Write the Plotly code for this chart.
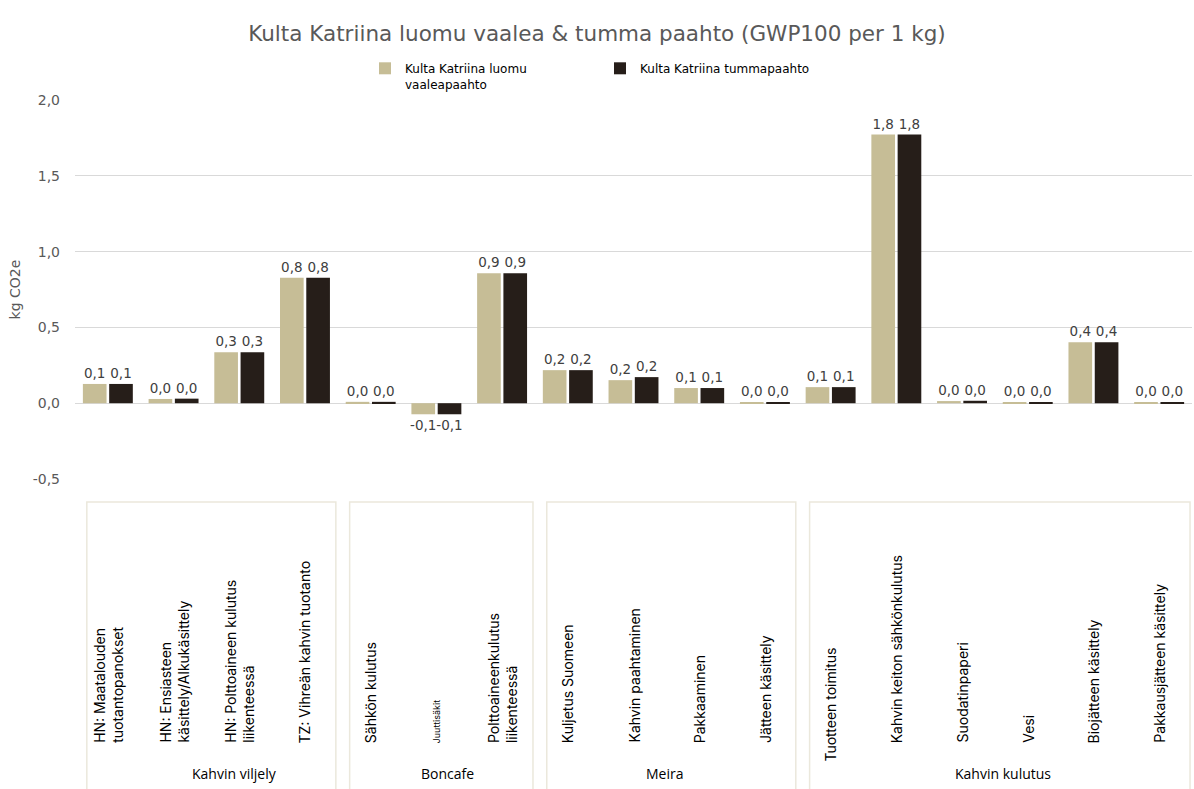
import plotly.graph_objects as go

categories = [
    "HN: Maatalouden<br>tuotantopanokset",
    "HN: Ensiasteen<br>käsittely/Alkukäsittely",
    "HN: Polttoaineen kulutus<br>liikenteessä",
    "TZ: Vihreän kahvin tuotanto",
    "Sähkön kulutus",
    "Juuttisäkit",
    "Polttoaineenkulutus<br>liikenteessä",
    "Kuljetus Suomeen",
    "Kahvin paahtaminen",
    "Pakkaaminen",
    "Jätteen käsittely",
    "Tuotteen toimitus",
    "Kahvin keiton sähkönkulutus",
    "Suodatinpaperi",
    "Vesi",
    "Biojätteen käsittely",
    "Pakkausjätteen käsittely",
]
groups = ["Kahvin viljely", "Boncafe", "Meira", "Kahvin kulutus"]
group_sizes = [4, 3, 4, 6]

light_values = [0.127, 0.028, 0.336, 0.828, 0.009, -0.073, 0.857, 0.218, 0.152,
                0.100, 0.008, 0.106, 1.772, 0.014, 0.008, 0.402, 0.008]
dark_values = [0.127, 0.030, 0.336, 0.828, 0.009, -0.073, 0.857, 0.218, 0.172,
               0.100, 0.008, 0.106, 1.772, 0.016, 0.008, 0.402, 0.008]

series_names = ["Kulta Katriina luomu<br>vaaleapaahto", "Kulta Katriina tummapaahto"]
y_ticks = [-0.5, 0.0, 0.5, 1.0, 1.5, 2.0]
y_tick_text = ["-0,5", "0,0", "0,5", "1,0", "1,5", "2,0"]

LIGHT = "#c6bd96"
DARK = "#261e19"
TXT = "#595959"
FONT = "DejaVu Sans"
CATFONT = "Inter"
GRPFONT = "Open Sans"

x_idx = list(range(len(categories)))

def fmt(v):
    s = ("%.1f" % abs(v)).replace(".", ",")
    return "-" + s if v < 0 else s

fig = go.Figure()
for name, vals, col in [(series_names[0], light_values, LIGHT), (series_names[1], dark_values, DARK)]:
    fig.add_trace(go.Bar(
        x=x_idx, y=vals, name=name, marker=dict(color=col, line=dict(width=0)),
        text=[fmt(v) for v in vals],
        texttemplate="%{text}", textposition="outside", constraintext="none",
        textfont=dict(family=FONT, size=13.5, color="#404040"), cliponaxis=False,
    ))

PT, PB = 100, 479
H = PB - PT
def py(pix):
    return (PB - pix) / H

annotations = []
for i, c in enumerate(categories):
    small = c == "Juuttisäkit"
    bottom = 764 if c == "Tuotteen toimitus" else 745
    annotations.append(dict(
        x=i, y=py(bottom), xref="x", yref="paper", text=c, textangle=-90,
        showarrow=False, xanchor="center", yanchor="bottom", align="left",
        font=dict(family=CATFONT, size=9 if small else 14, color="#000000"),
    ))

group_label_shift = [0.35, 0.1, -0.1, 0.05]
shapes = []
start = 0
for g, n, sh in zip(groups, group_sizes, group_label_shift):
    x0 = start - 0.5 + 0.18
    x1 = start + n - 0.5 - 0.03
    shapes.append(dict(type="rect", xref="x", yref="paper", x0=x0, x1=x1,
                       y0=py(502), y1=py(800), line=dict(color="#ebe8dc", width=1.5),
                       fillcolor="rgba(0,0,0,0)", layer="above"))
    annotations.append(dict(
        x=(x0 + x1) / 2 + sh, y=py(773), xref="x", yref="paper", text=g, showarrow=False,
        xanchor="center", yanchor="middle",
        font=dict(family=GRPFONT, size=14, color="#000000"),
    ))
    start += n

fig.update_layout(
    width=1194, height=789,
    margin=dict(l=75, r=2, t=PT, b=789 - PB, autoexpand=False),
    paper_bgcolor="white", plot_bgcolor="white",
    separators=", ",
    title=dict(text="Kulta Katriina luomu vaalea & tumma paahto (GWP100 per 1 kg)",
               x=0.5, xanchor="center", y=1 - 33 / 789, yanchor="middle",
               font=dict(family=FONT, size=21.5, color=TXT)),
    barmode="group", bargap=0.2, bargroupgap=0.1,
    showlegend=True,
    legend=dict(orientation="h", x=(365 - 75) / 1117, xanchor="left",
                y=1 + (100 - 54) / H, yanchor="top", valign="top",
                font=dict(family=FONT, size=12, color="#000000"),
                itemwidth=30, entrywidth=190, entrywidthmode="pixels",
                traceorder="normal"),
    xaxis=dict(range=[-0.5, len(categories) - 0.5], showticklabels=False,
               showgrid=False, zeroline=False, showline=False, ticks=""),
    yaxis=dict(range=[-0.5, 2.0], tickvals=y_ticks, ticktext=y_tick_text,
               showgrid=True, gridcolor="#d9d9d9", gridwidth=1, zeroline=False,
               tickfont=dict(family=FONT, size=14, color=TXT), ticks="",
               ticklabelstandoff=14,
               title=dict(text="kg CO2e", font=dict(family=FONT, size=14, color=TXT),
                          standoff=8)),
    annotations=annotations, shapes=shapes,
)

fig.write_html("out.html", config={"displayModeBar": False},
               post_script="document.body.style.margin='0px';")
